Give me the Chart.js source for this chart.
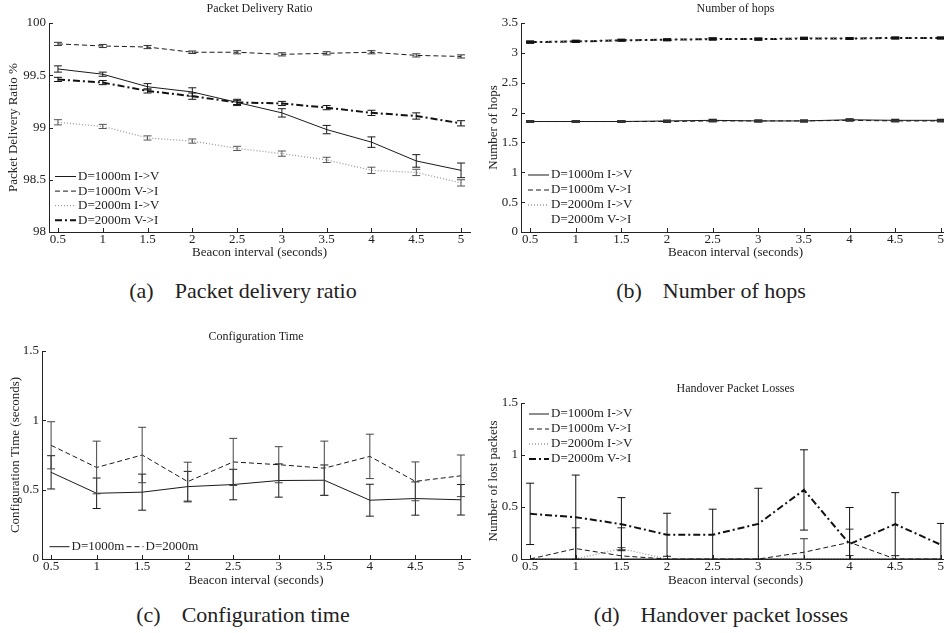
<!DOCTYPE html>
<html><head><meta charset="utf-8">
<script src="https://cdn.jsdelivr.net/npm/chart.js@4.4.1/dist/chart.umd.min.js"></script>
<style>
html,body{margin:0;padding:0;background:#fff;overflow:hidden;width:944px;height:633px;position:relative;}
.p{position:absolute;}
.cap{position:absolute;font-family:'Liberation Serif','Times New Roman',serif;font-size:22px;color:#222;white-space:nowrap;transform:translate(-50%,-50%);line-height:1;}
.cap span+span{margin-left:21px;}
</style></head><body>
<div class="p" style="left:0;top:0"><canvas id="ca" width="472" height="262"></canvas></div>
<div class="p" style="left:472px;top:0"><canvas id="cb" width="478" height="262"></canvas></div>
<div class="p" style="left:0;top:328px"><canvas id="cc" width="472" height="262"></canvas></div>
<div class="p" style="left:472px;top:380px"><canvas id="cd" width="478" height="210"></canvas></div>
<div class="cap" style="left:243px;top:291px"><span>(a)</span><span>Packet delivery ratio</span></div>
<div class="cap" style="left:711px;top:291px"><span>(b)</span><span>Number of hops</span></div>
<div class="cap" style="left:243px;top:615px"><span>(c)</span><span>Configuration time</span></div>
<div class="cap" style="left:721px;top:615px"><span>(d)</span><span>Handover packet losses</span></div>
<script>
// ---------- DATA ----------
const beaconIntervals = [0.5, 1, 1.5, 2, 2.5, 3, 3.5, 4, 4.5, 5];
const xTickValues = [0.5, 1, 1.5, 2, 2.5, 3, 3.5, 4, 4.5, 5];

const labels4 = ['D=1000m I->V', 'D=1000m V->I', 'D=2000m I->V', 'D=2000m V->I'];
const labels2 = ['D=1000m', 'D=2000m'];

// (a) Packet delivery ratio
const pdrTicks = [98, 98.5, 99, 99.5, 100];
const pdr1000IV = [99.56, 99.51, 99.39, 99.34, 99.24, 99.14, 98.98, 98.86, 98.68, 98.59];
const pdr1000IVErr = [0.03, 0.02, 0.03, 0.04, 0.03, 0.04, 0.04, 0.05, 0.06, 0.07];
const pdr1000VI = [99.80, 99.78, 99.77, 99.72, 99.72, 99.70, 99.71, 99.72, 99.69, 99.68];
const pdr1000VIErr = [0.015, 0.015, 0.015, 0.012, 0.015, 0.015, 0.015, 0.015, 0.015, 0.015];
const pdr2000IV = [99.05, 99.01, 98.90, 98.87, 98.80, 98.75, 98.69, 98.59, 98.57, 98.47];
const pdr2000IVErr = [0.025, 0.02, 0.02, 0.02, 0.02, 0.025, 0.025, 0.03, 0.03, 0.03];
const pdr2000VI = [99.46, 99.43, 99.35, 99.30, 99.24, 99.23, 99.19, 99.14, 99.11, 99.04];
const pdr2000VIErr = [0.02, 0.02, 0.02, 0.03, 0.02, 0.02, 0.02, 0.025, 0.03, 0.025];

// (b) Number of hops
const hopsTicks = [0, 0.5, 1, 1.5, 2, 2.5, 3, 3.5];
const hops1000IV = [1.85, 1.85, 1.85, 1.86, 1.87, 1.86, 1.86, 1.88, 1.87, 1.87];
const hops1000VI = [1.85, 1.85, 1.85, 1.85, 1.86, 1.86, 1.86, 1.87, 1.86, 1.86];
const hops2000IV = [3.18, 3.20, 3.21, 3.22, 3.24, 3.23, 3.25, 3.24, 3.25, 3.25];
const hops2000VI = [3.18, 3.19, 3.21, 3.22, 3.23, 3.23, 3.24, 3.24, 3.25, 3.25];
const hopsErr = [0.012, 0.012, 0.012, 0.012, 0.012, 0.012, 0.012, 0.012, 0.012, 0.012];

// (c) Configuration time
const cfgTicks = [0, 0.5, 1, 1.5];
const cfg1000 = [0.625, 0.474, 0.482, 0.522, 0.537, 0.566, 0.568, 0.424, 0.436, 0.427];
const cfg1000Err = [0.12, 0.11, 0.13, 0.11, 0.11, 0.12, 0.11, 0.115, 0.12, 0.11];
const cfg2000 = [0.82, 0.66, 0.75, 0.558, 0.70, 0.68, 0.655, 0.74, 0.56, 0.60];
const cfg2000Err = [0.17, 0.19, 0.20, 0.14, 0.17, 0.13, 0.195, 0.16, 0.14, 0.15];

// (d) Handover packet losses
const lossTicks = [0, 0.5, 1, 1.5];
const loss1000IV = [0, 0, 0, 0, 0, 0, 0, 0, 0, 0];
const loss1000IVErr = [0, 0, 0, 0, 0, 0, 0, 0, 0, 0];
const loss1000VI = [0, 0.10, 0.03, 0, 0, 0, 0.065, 0.16, 0, 0];
const loss1000VIErr = [0, 0.20, 0.27, 0, 0, 0, 0.13, 0.127, 0, 0];
const loss2000IV = [0, 0, 0.10, 0, 0, 0, 0, 0, 0, 0];
const loss2000IVErr = [0, 0, 0.01, 0, 0, 0, 0, 0, 0, 0];
const loss2000VI = [0.434, 0.402, 0.335, 0.233, 0.233, 0.338, 0.664, 0.144, 0.335, 0.137];
const loss2000VIErr = [0.295, 0.405, 0.255, 0.207, 0.246, 0.342, 0.386, 0.351, 0.303, 0.205];

// ---------- STYLES ----------
const FONT = "'Liberation Serif','Times New Roman',serif";
const INK = '#222';
const STY = {
  solid:   {borderColor: '#1a1a1a', borderWidth: 1,   borderDash: [],          errColor: '#1a1a1a'},
  dashed:  {borderColor: '#1a1a1a', borderWidth: 1,   borderDash: [5, 3],      errColor: '#333'},
  dotted:  {borderColor: '#9a9a9a', borderWidth: 1.3, borderDash: [1, 2],      errColor: '#555'},
  dashdot: {borderColor: '#111',    borderWidth: 2,   borderDash: [7, 3, 2, 3], errColor: '#111'}
};

function ds(label, ys, errs, sty, extra) {
  return Object.assign({
    label: label,
    data: beaconIntervals.map((x, i) => ({x: x, y: ys[i]})),
    errors: errs,
    borderColor: sty.borderColor, borderWidth: sty.borderWidth, borderDash: sty.borderDash,
    errColor: sty.errColor,
    pointRadius: 0, fill: false, tension: 0
  }, extra || {});
}

// ---------- PLUGIN: error bars, inward ticks, in-plot legend ----------
const matlabPlugin = {
  id: 'matlabAxes',
  afterDatasetsDraw(chart, args, opts) {
    const ctx = chart.ctx, ca = chart.chartArea;
    const xs = chart.scales.x, ys = chart.scales.y;
    ctx.save();
    ctx.beginPath(); ctx.rect(ca.left, ca.top - 1, ca.right - ca.left, ca.bottom - ca.top + 1.5); ctx.clip();
    const capHalf = opts.capHalf || 4;
    chart.data.datasets.forEach(d => {
      if (!d.errors) return;
      ctx.strokeStyle = d.errColor; ctx.lineWidth = opts.errWidth || 1; ctx.setLineDash([]);
      d.data.forEach((p, j) => {
        const e = d.errors[j];
        if (!e) return;
        const px = xs.getPixelForValue(p.x);
        const yt = ys.getPixelForValue(p.y + e), yb = ys.getPixelForValue(p.y - e);
        ctx.beginPath();
        ctx.moveTo(px, yt); ctx.lineTo(px, yb);
        ctx.moveTo(px - capHalf, yt); ctx.lineTo(px + capHalf, yt);
        ctx.moveTo(px - capHalf, yb); ctx.lineTo(px + capHalf, yb);
        ctx.stroke();
      });
    });
    ctx.restore();
  },
  afterDraw(chart, args, opts) {
    const ctx = chart.ctx, ca = chart.chartArea;
    const xs = chart.scales.x, ys = chart.scales.y;
    ctx.save();
    ctx.strokeStyle = INK; ctx.lineWidth = 1; ctx.setLineDash([]);
    ctx.beginPath();
    xs.ticks.forEach(t => {
      const px = Math.round(xs.getPixelForValue(t.value)) + 0.5;
      ctx.moveTo(px, ca.bottom); ctx.lineTo(px, ca.bottom - 4);
    });
    ys.ticks.forEach(t => {
      const py = Math.round(ys.getPixelForValue(t.value)) + 0.5;
      ctx.moveTo(ca.left, py); ctx.lineTo(ca.left + 4, py);
    });
    ctx.stroke();
    // legend
    const L = opts.legend;
    if (L) {
      ctx.font = '13px ' + FONT;
      ctx.textBaseline = 'middle';
      ctx.fillStyle = INK;
      chart.data.datasets.forEach((d, i) => {
        const it = L.items[i];
        const len = it.len || L.lineLen;
        const y = it.y, x0 = it.x, x1 = it.x + len;
        if (!(L.hide && L.hide.includes(i))) {
          ctx.save();
          ctx.strokeStyle = d.borderColor; ctx.lineWidth = d.borderWidth;
          ctx.setLineDash(d.borderDash);
          ctx.beginPath(); ctx.moveTo(x0, y); ctx.lineTo(x1, y); ctx.stroke();
          ctx.restore();
        }
        ctx.fillText(d.label, x1 + L.textGap, y);
      });
    }
    ctx.restore();
  }
};

function makeChart(id, c) {
  return new Chart(document.getElementById(id), {
    type: 'line',
    data: {datasets: c.datasets},
    options: {
      responsive: false, animation: false, events: [],
      layout: {padding: {left: 0, top: 0, right: c.padRight, bottom: 0}},
      plugins: {
        legend: {display: false}, tooltip: {enabled: false},
        title: {display: true, text: c.title, fullSize: false, color: INK,
                font: {family: FONT, size: 12, weight: 'normal'}, padding: {top: 1.8, bottom: 6.8}},
        matlabAxes: {legend: c.legend, capHalf: c.capHalf, errWidth: c.errWidth}
      },
      scales: {
        x: {
          type: 'linear', min: 0.4, max: 5.1,
          afterBuildTicks: s => { s.ticks = xTickValues.map(v => ({value: v})); },
          afterFit: s => { s.height = c.xH; },
          grid: {display: false, drawTicks: false},
          border: {display: true, color: INK, width: 1},
          ticks: {padding: 0, color: INK, font: {family: FONT, size: 13}, maxRotation: 0, autoSkip: false,
                  callback: v => String(v)},
          title: {display: true, text: 'Beacon interval (seconds)', color: INK,
                  font: {family: FONT, size: 13}, padding: {top: 0, bottom: 1.2}}
        },
        y: {
          type: 'linear', min: c.yTicks[0], max: c.yTicks[c.yTicks.length - 1],
          afterBuildTicks: s => { s.ticks = c.yTicks.map(v => ({value: v})); },
          afterFit: s => { s.width = c.yW; },
          grid: {display: false, drawTicks: false},
          border: {display: true, color: INK, width: 1},
          ticks: {padding: 3, color: INK, font: {family: FONT, size: 13}, autoSkip: false,
                  callback: v => String(v)},
          title: {display: true, text: c.yTitle, color: INK,
                  font: {family: FONT, size: 13}, padding: {top: c.yTitlePad, bottom: 0}}
        }
      }
    },
    plugins: [matlabPlugin]
  });
}

function rows(x, y0, step, n) { const a = []; for (let i = 0; i < n; i++) a.push({x: x, y: y0 + i * step}); return a; }

makeChart('ca', {
  title: 'Packet Delivery Ratio', yTitle: 'Packet Delivery Ratio %', yTicks: pdrTicks,
  yW: 49, xH: 30, padRight: 2, yTitlePad: 6,
  legend: {items: rows(55, 176.5, 14.6, 4), lineLen: 21, textGap: 2},
  datasets: [
    ds(labels4[0], pdr1000IV, pdr1000IVErr, STY.solid),
    ds(labels4[1], pdr1000VI, pdr1000VIErr, STY.dashed),
    ds(labels4[2], pdr2000IV, pdr2000IVErr, STY.dotted),
    ds(labels4[3], pdr2000VI, pdr2000VIErr, STY.dashdot)
  ]
});

makeChart('cb', {
  title: 'Number of hops', yTitle: 'Number of hops', yTicks: hopsTicks,
  yW: 49, xH: 30, padRight: 0, yTitlePad: 14, capHalf: 4, errWidth: 1.6,
  legend: {items: rows(56, 175, 15, 4), lineLen: 21, textGap: 2, hide: [3]},
  datasets: [
    ds(labels4[0], hops1000IV, hopsErr, STY.solid),
    ds(labels4[1], hops1000VI, hopsErr, STY.dashed),
    ds(labels4[2], hops2000IV, hopsErr, STY.dotted),
    ds(labels4[3], hops2000VI, hopsErr, STY.dashdot)
  ]
});

makeChart('cc', {
  title: 'Configuration Time', yTitle: 'Configuration Time (seconds)', yTicks: cfgTicks,
  yW: 42, xH: 31, padRight: 2, yTitlePad: 7.5,
  legend: {items: [{x: 49.5, y: 218.7, len: 20}, {x: 126.5, y: 218.7, len: 17}], lineLen: 20, textGap: 2},
  datasets: [
    ds(labels2[0], cfg1000, cfg1000Err, STY.solid),
    ds(labels2[1], cfg2000, cfg2000Err, Object.assign({}, STY.dashed, {errColor: '#444'}))
  ]
});

makeChart('cd', {
  title: 'Handover Packet Losses', yTitle: 'Number of lost packets', yTicks: lossTicks,
  yW: 49, xH: 31, padRight: 0, yTitlePad: 14,
  legend: {items: rows(57, 34, 15, 4), lineLen: 20, textGap: 2},
  datasets: [
    ds(labels4[0], loss1000IV, loss1000IVErr, STY.solid),
    ds(labels4[1], loss1000VI, loss1000VIErr, STY.dashed),
    ds(labels4[2], loss2000IV, loss2000IVErr, STY.dotted),
    ds(labels4[3], loss2000VI, loss2000VIErr, STY.dashdot)
  ]
});
</script>
</body></html>
